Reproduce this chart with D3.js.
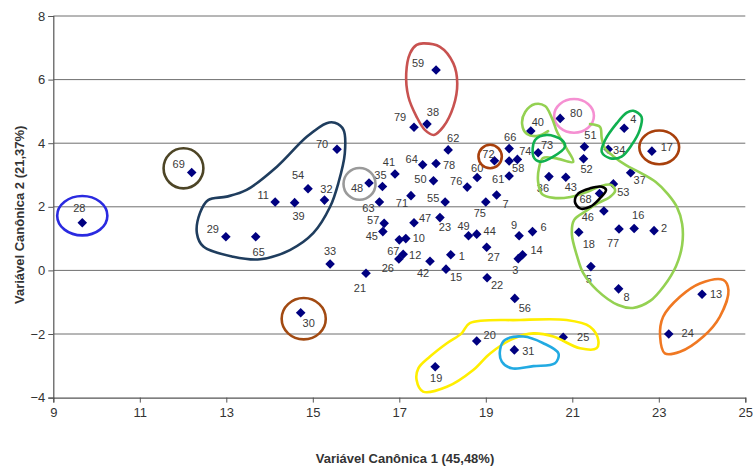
<!DOCTYPE html>
<html><head><meta charset="utf-8">
<script src="https://cdn.jsdelivr.net/npm/d3@7"></script>
<style>
html,body{margin:0;padding:0;background:#fff;}
text{font-family:"Liberation Sans",Arial,sans-serif;}
</style></head>
<body><svg id="c" width="754" height="469"></svg>
<script>
// ---------- data ----------
const xTicks = [9, 11, 13, 15, 17, 19, 21, 23, 25];
const yTicks = [-4, -2, 0, 2, 4, 6, 8];
const xTitle = "Variável Canônica 1 (45,48%)";
const yTitle = "Variável Canônica 2 (21,37%)";

const ids = d3.range(1, 81);
const cv1 = [18.19,22.89,19.75,22.2,21.43,20.08,19.25,22.07,19.77,17.15,
14.13,17.09,24.0,19.85,18.08,22.43,22.84,21.15,17.83,18.79,
16.23,19.03,17.94,23.23,20.79,16.99,19.02,9.67,12.99,14.72,
19.66,15.27,15.4,21.83,16.61,20.46,22.35,17.64,14.58,20.04,
16.9,17.71,20.85,18.79,16.62,21.73,17.34,16.3,18.6,17.79,
21.28,21.26,21.95,14.89,18.06,19.67,16.65,19.54,17.85,18.8,
19.54,18.13,16.54,17.54,13.68,19.54,17.0,21.63,12.2,15.56,
17.27,19.2,20.21,19.73,19.0,18.57,22.08,17.85,17.34,20.72];
const cv2 = [0.49,1.25,0.37,4.47,0.12,1.22,2.37,-0.58,1.09,1.0,
2.15,0.51,-0.75,0.49,0.04,1.32,3.75,1.2,-3.03,-2.22,
-0.09,-0.23,1.66,-2.0,-2.1,0.36,0.73,1.5,1.06,-1.33,
-2.5,2.21,0.2,3.81,2.64,2.95,3.07,4.6,2.13,4.38,
3.03,0.29,2.93,1.14,1.22,1.87,1.5,2.75,1.09,2.82,
3.89,3.51,2.72,2.57,2.15,-0.88,1.48,3.44,6.3,2.92,
2.97,3.79,2.15,3.32,1.06,3.83,0.96,2.42,3.08,3.81,
2.35,3.45,3.7,3.49,2.15,2.62,1.3,3.36,4.5,4.78];

// ---------- layout (label offsets in px, by id) ----------
const labelOffset = {
1:[11,1],2:[10,-3],3:[-3,11],4:[9,-9],5:[-2,12],6:[11,-5],7:[9,9],8:[8,8],9:[-5,-11],10:[13,-1],
11:[-12,-7],12:[12,1],13:[14,0],14:[14,-5],15:[10,8],16:[4,-13],17:[15,-4],18:[10,12],19:[1,11],20:[13,-6],
21:[-6,15],22:[10,7],23:[5,9],24:[19,-1],25:[20,0],26:[-11,9],27:[7,10],28:[-3,-15],29:[-13,-8],30:[8,10],
31:[14,1],32:[2,-11],33:[0,-13],34:[11,1],35:[-2,-11],36:[-6,11],37:[9,7],38:[6,-12],39:[4,13],40:[7,-9],
41:[-6,-12],42:[-7,12],43:[5,10],44:[13,-3],45:[-11,4],46:[-16,6],47:[11,-5],48:[-12,5],49:[-5,-10],50:[-13,-2],
51:[6,-12],52:[3,10],53:[10,8],54:[-10,-14],55:[-12,-4],56:[10,10],57:[-11,-3],58:[9,7],59:[-18,-7],60:[0,-10],
61:[-11,3],62:[5,-12],63:[-11,6],64:[-11,-6],65:[3,15],66:[1,-12],67:[-6,11],68:[-14,6],69:[-13,-8],70:[-15,-5],
71:[-9,7],72:[-6,-7],73:[9,-8],74:[8,-8],75:[-6,11],76:[-11,-6],77:[-6,14],78:[13,1],79:[-14,-10],80:[16,-5]};

// ---------- hand-drawn group outlines (data units) ----------
const ellipses = [
  {c:[9.67,1.72], r:[0.58,0.62], color:"#2a2ae0"},
  {c:[12.01,3.21], r:[0.46,0.63], color:"#4d4526"},
  {c:[16.08,2.72], r:[0.37,0.5], color:"#9a9a9a"},
  {c:[14.79,-1.52], r:[0.51,0.65], color:"#a24a12"},
  {c:[19.1,3.58], r:[0.27,0.37], color:"#a8400c"},
  {c:[21.04,4.86], r:[0.46,0.53], color:"#f590d2"},
  {c:[23.01,3.87], r:[0.46,0.53], color:"#a8400c"}
];
const outlines = [
  {color:"#1f3d5e", closed:true, pts:[[15.51,4.64],[15.71,4.42],[15.74,3.68],[15.59,2.74],[15.4,2.0],[15.01,1.17],[14.47,0.64],[13.78,0.35],[13.16,0.43],[12.47,0.75],[12.32,1.17],[12.39,1.8],[12.58,2.21],[13.01,2.32],[13.47,2.53],[14.17,3.26],[14.86,4.2],[15.32,4.63]]},
  {color:"#c85250", closed:true, pts:[[17.55,7.14],[17.94,7.03],[18.25,6.51],[18.34,5.88],[18.25,5.15],[18.02,4.52],[17.8,4.26],[17.59,4.42],[17.4,4.83],[17.21,5.46],[17.16,6.2],[17.25,6.83],[17.4,7.09]]},
  {color:"#ffee00", closed:true, pts:[[17.4,-3.45],[17.55,-3.81],[18.1,-3.66],[18.71,-3.13],[19.1,-2.61],[19.64,-2.14],[20.1,-1.98],[20.56,-2.08],[21.18,-2.45],[21.56,-2.45],[21.6,-2.19],[21.41,-1.77],[20.87,-1.56],[19.79,-1.56],[18.63,-1.66],[18.44,-1.98],[18.1,-2.29],[17.71,-2.71],[17.44,-3.08]]},
  {color:"#22aae2", closed:true, pts:[[19.33,-2.5],[19.44,-2.19],[19.87,-2.08],[20.33,-2.29],[20.68,-2.61],[20.6,-2.92],[20.1,-3.01],[19.6,-3.08],[19.37,-2.87]]},
  {color:"#f07822", closed:true, pts:[[23.03,-2.08],[23.1,-1.46],[23.49,-0.83],[23.95,-0.41],[24.49,-0.3],[24.61,-0.62],[24.41,-1.46],[24.03,-2.08],[23.49,-2.56],[23.14,-2.61]]},
  {color:"#94d152", closed:false, pts:[[21.41,4.6],[21.64,4.51],[21.68,4.16],[21.75,3.85],[21.94,3.6],[22.24,3.31],[22.59,3.06],[22.93,2.78],[23.21,2.4],[23.42,1.99],[23.54,1.46],[23.54,0.8],[23.4,0.14],[23.12,-0.49],[22.8,-0.96],[22.4,-1.18],[22.06,-1.09],[21.57,-0.62],[21.25,-0.08],[21.11,0.45],[20.99,1.14],[21.04,1.58],[21.32,1.87],[21.6,2.12],[21.87,2.31],[21.99,2.5],[21.9,2.69],[21.65,2.65],[21.35,2.47],[20.96,2.31],[20.57,2.28],[20.3,2.4],[20.21,2.78],[20.23,3.22],[20.32,3.53],[20.6,3.53],[21.02,3.41],[20.86,3.85],[20.65,4.35],[20.53,4.79],[20.37,5.17],[20.14,5.23],[19.91,4.98],[19.84,4.6],[19.95,4.29],[20.21,4.23],[20.44,4.38]]},
  {color:"#10b050", closed:true, pts:[[20.1,3.58],[20.14,4.1],[20.41,4.26],[20.76,4.1],[20.83,3.89],[20.56,3.58],[20.25,3.42]]},
  {color:"#10b050", closed:true, pts:[[22.41,5.02],[22.6,4.83],[22.56,4.42],[22.37,3.94],[22.14,3.58],[21.87,3.53],[21.68,3.73],[21.76,4.1],[22.03,4.63],[22.26,4.96]]},
  {color:"#000000", closed:true, pts:[[21.06,2.16],[21.14,2.42],[21.41,2.58],[21.68,2.63],[21.78,2.53],[21.64,2.27],[21.41,2.0],[21.18,1.95]]}
];

// ---------- chart ----------
const svg = d3.select("#c");
const x = d3.scaleLinear().domain([9, 25]).range([53.3, 745.3]);
const y = d3.scaleLinear().domain([-4, 8]).range([397.6, 16]);

// gridlines
svg.append("g").selectAll("line").data(yTicks.filter(v => v > -4)).join("line")
  .attr("x1", x(9)).attr("x2", x(25))
  .attr("y1", d => y(d)).attr("y2", d => y(d))
  .attr("stroke", "#6f6f6f").attr("stroke-width", 1);

// axes
const gx = svg.append("g").attr("transform", `translate(0,${y(-4)})`)
  .call(d3.axisBottom(x).tickValues(xTicks).tickFormat(d3.format("d")).tickSize(5).tickPadding(5));
const gy = svg.append("g").attr("transform", `translate(${x(9)},0)`)
  .call(d3.axisLeft(y).tickValues(yTicks).tickFormat(d3.format("d")).tickSize(5).tickPadding(3));
[gx, gy].forEach(g => {
  g.select(".domain").attr("stroke", "#555").attr("stroke-width", 1.2);
  g.selectAll(".tick line").attr("stroke", "#555");
  g.selectAll(".tick text").attr("font-size", 13).attr("fill", "#333")
    .attr("font-family", "'Liberation Sans',Arial,sans-serif");
});

// axis titles
svg.append("text").attr("x", 405).attr("y", 463).attr("text-anchor", "middle")
  .attr("font-size", 13).attr("font-weight", "bold").attr("fill", "#333").text(xTitle);
svg.append("text").attr("transform", `translate(24,${(y(-4)+y(8))/2 + 8}) rotate(-90)`)
  .attr("text-anchor", "middle").attr("font-size", 13).attr("font-weight", "bold")
  .attr("fill", "#333").text(yTitle);

// points
const pts = ids.map((id, i) => ({id, a: cv1[i], b: cv2[i]}));
const diamond = d3.symbol().type(d3.symbolSquare).size(46);
svg.append("g").selectAll("path").data(pts).join("path")
  .attr("d", diamond)
  .attr("transform", d => `translate(${x(d.a)},${y(d.b)}) rotate(45)`)
  .attr("fill", "#000080");

// labels
svg.append("g").selectAll("text").data(pts).join("text")
  .attr("x", d => x(d.a) + labelOffset[d.id][0])
  .attr("y", d => y(d.b) + labelOffset[d.id][1])
  .attr("text-anchor", "middle").attr("dominant-baseline", "central")
  .attr("font-size", 11).attr("fill", "#3a3a3a").text(d => d.id);

// group outlines
const gShapes = svg.append("g").attr("fill", "none").attr("stroke-width", 2.6);
gShapes.selectAll("ellipse").data(ellipses).join("ellipse")
  .attr("cx", d => x(d.c[0])).attr("cy", d => y(d.c[1]))
  .attr("rx", d => x(d.c[0] + d.r[0]) - x(d.c[0]))
  .attr("ry", d => y(d.c[1]) - y(d.c[1] + d.r[1]))
  .attr("stroke", d => d.color);
const lineClosed = d3.line().x(p => x(p[0])).y(p => y(p[1])).curve(d3.curveCatmullRomClosed.alpha(0.5));
const lineOpen = d3.line().x(p => x(p[0])).y(p => y(p[1])).curve(d3.curveCatmullRom.alpha(0.5));
gShapes.selectAll("path").data(outlines).join("path")
  .attr("d", d => (d.closed ? lineClosed : lineOpen)(d.pts))
  .attr("stroke", d => d.color).attr("stroke-linejoin", "round").attr("stroke-linecap", "round");
</script></body></html>
